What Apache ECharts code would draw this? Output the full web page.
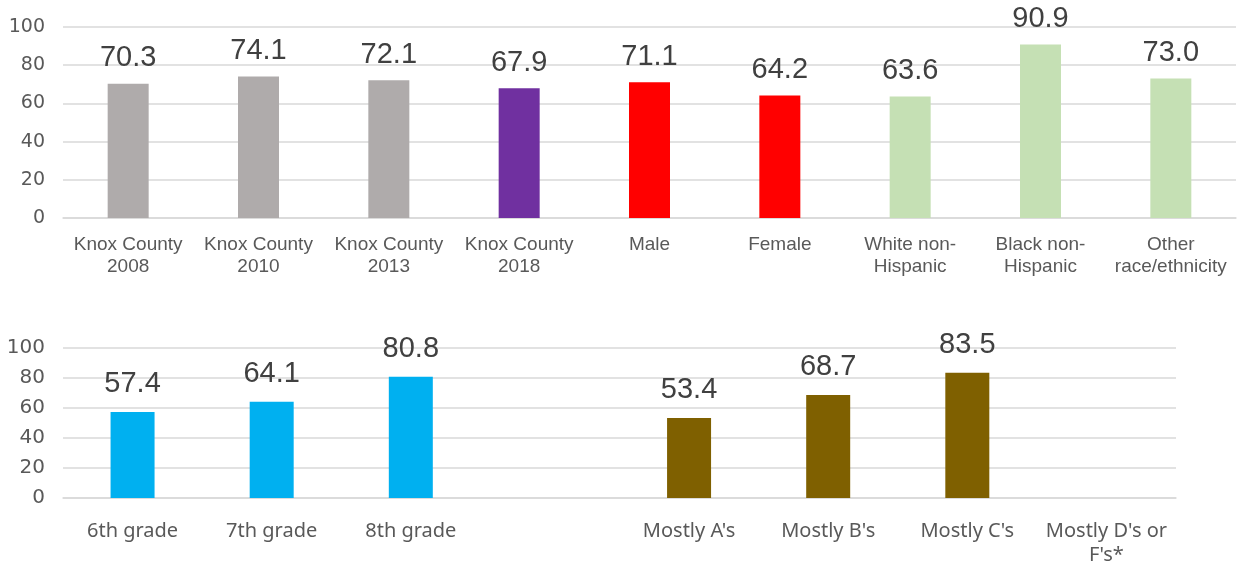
<!DOCTYPE html>
<html>
<head>
<meta charset="utf-8">
<title>Chart</title>
<style>
  html, body { margin: 0; padding: 0; background: #fff; overflow: hidden; }
</style>
</head>
<body>
<div id="chart-container" style="width: 1242px; height: 567px;"></div>
<script src="https://cdn.jsdelivr.net/npm/echarts@6/dist/echarts.min.js"></script>
<script>
  // top panel
  var topCategories = ['Knox County\n2008', 'Knox County\n2010', 'Knox County\n2013', 'Knox County\n2018',
    'Male', 'Female', 'White non-\nHispanic', 'Black non-\nHispanic', 'Other\nrace/ethnicity'];
  var topValues = [70.3, 74.1, 72.1, 67.9, 71.1, 64.2, 63.6, 90.9, 73.0];
  var topColors = ['#AFABAB', '#AFABAB', '#AFABAB', '#7030A0', '#FF0000', '#FF0000', '#C5E0B4', '#C5E0B4', '#C5E0B4'];

  // bottom panel (4th slot is an empty gap, last one has no value)
  var bottomCategories = ['6th grade', '7th grade', '8th grade', '', "Mostly A's", "Mostly B's", "Mostly C's", "Mostly D's or\nF's*"];
  var bottomValues = [57.4, 64.1, 80.8, null, 53.4, 68.7, 83.5, null];
  var bottomColors = ['#00B0F0', '#00B0F0', '#00B0F0', '#00B0F0', '#7F6000', '#7F6000', '#7F6000', '#7F6000'];

  var yTicks = [0, 20, 40, 60, 80, 100];

  var chart = echarts.init(document.getElementById('chart-container'));

  function makeData(values, colors) {
    return values.map(function (v, i) {
      return { value: v, itemStyle: { color: colors[i] } };
    });
  }

  function yAxis(gridIndex, fontSize) {
    return {
      type: 'value', gridIndex: gridIndex,
      min: yTicks[0], max: yTicks[yTicks.length - 1], interval: 20,
      axisLine: { show: false }, axisTick: { show: false },
      axisLabel: { color: '#595959', fontSize: fontSize, fontFamily: 'DejaVu Sans', margin: 18 },
      splitLine: { lineStyle: { color: '#D9D9D9', width: 1.5 } }
    };
  }

  var option = {
    animation: false,
    grid: [
      { left: 63, right: 6, top: 27, height: 191 },
      { left: 63, width: 1113, top: 348, height: 150 }
    ],
    xAxis: [
      {
        type: 'category', gridIndex: 0, data: topCategories,
        axisLine: { lineStyle: { color: '#D9D9D9', width: 1.5 } }, axisTick: { show: false },
        axisLabel: { color: '#595959', fontSize: 19, fontFamily: 'Liberation Sans', lineHeight: 22, margin: 16, interval: 0 }
      },
      {
        type: 'category', gridIndex: 1, data: bottomCategories,
        axisLine: { lineStyle: { color: '#D9D9D9', width: 1.5 } }, axisTick: { show: false },
        axisLabel: { color: '#595959', fontSize: 20, fontFamily: 'Noto Sans', lineHeight: 24, margin: 21, interval: 0 }
      }
    ],
    yAxis: [yAxis(0, 19), yAxis(1, 20)],
    series: [
      {
        type: 'bar', xAxisIndex: 0, yAxisIndex: 0, barWidth: 41,
        data: makeData(topValues, topColors),
        label: {
          show: true, position: 'top', distance: 11, color: '#404040',
          fontSize: 29, fontFamily: 'Liberation Sans',
          formatter: function (p) { return p.value.toFixed(1); }
        }
      },
      {
        type: 'bar', xAxisIndex: 1, yAxisIndex: 1, barWidth: 44,
        data: makeData(bottomValues, bottomColors),
        label: {
          show: true, position: 'top', distance: 13, color: '#404040',
          fontSize: 29, fontFamily: 'Liberation Sans',
          formatter: function (p) { return p.value == null ? '' : p.value.toFixed(1); }
        }
      }
    ]
  };

  chart.setOption(option);
</script>
</body>
</html>
